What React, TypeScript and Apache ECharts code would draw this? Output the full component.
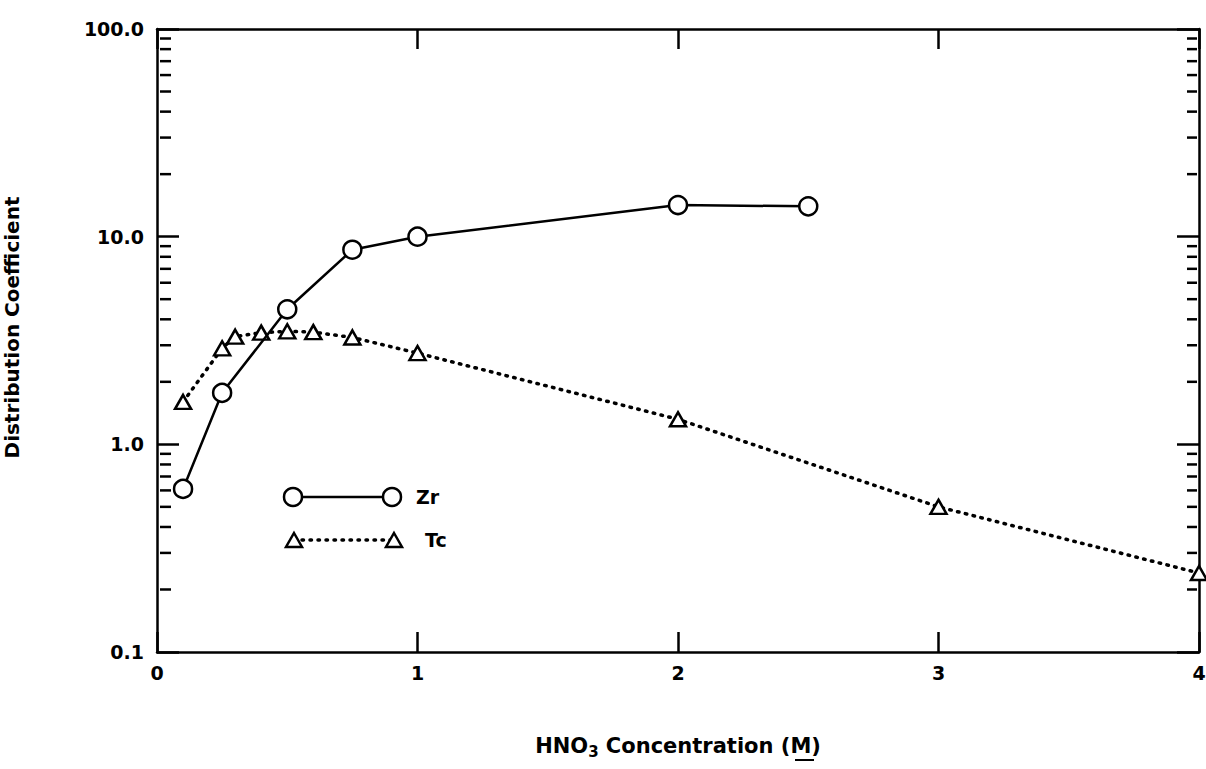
import React, { useEffect, useRef } from "react";
import * as echarts from "echarts";

// HNO3 concentration (M)
const zrX = [0.1, 0.25, 0.5, 0.75, 1.0, 2.0, 2.5];
const zrY = [0.61, 1.77, 4.47, 8.65, 10.0, 14.2, 14.0];
const tcX = [0.1, 0.25, 0.3, 0.4, 0.5, 0.6, 0.75, 1.0, 2.0, 3.0, 4.0];
const tcY = [1.6, 2.9, 3.3, 3.45, 3.5, 3.47, 3.27, 2.75, 1.32, 0.5, 0.24];
const xTicks = [0, 1, 2, 3, 4];
const yMajorTicks = [0.1, 1, 10, 100];
const yMinorTicks = [
  0.2, 0.3, 0.4, 0.5, 0.6, 0.7, 0.8, 0.9,
  2, 3, 4, 5, 6, 7, 8, 9,
  20, 30, 40, 50, 60, 70, 80, 90,
];

const FONT = "DejaVu Sans";

export default function App() {
  const ref = useRef<HTMLDivElement>(null);
  useEffect(() => {
    if (!ref.current) return;
    const chart = echarts.init(ref.current, undefined, { renderer: "svg" });
    const axisLine = { show: true, onZero: false, lineStyle: { color: "#000", width: 2.5 } };
    const xAxisCommon = {
      type: "value" as const,
      min: xTicks[0],
      max: xTicks[xTicks.length - 1],
      interval: 1,
      axisLine,
      splitLine: { show: false },
      axisTick: { show: true, inside: true, length: 20, lineStyle: { color: "#000", width: 2.5 } },
    };
    const yAxisCommon = {
      type: "log" as const,
      logBase: 10,
      min: yMajorTicks[0],
      max: yMajorTicks[yMajorTicks.length - 1],
      axisLine,
      splitLine: { show: false },
      minorTick: { show: false },
      axisTick: { show: true, inside: true, length: 22, lineStyle: { color: "#000", width: 2.5 } },
    };
    const option: any = {
      animation: false,
      backgroundColor: "#fff",
      grid: { left: 157, right: 7, top: 29, bottom: 117, containLabel: false, outerBoundsMode: "none" },
      xAxis: [
        {
          ...xAxisCommon,
          position: "bottom",
          axisLabel: {
            color: "#000",
            fontFamily: FONT,
            fontWeight: "bold",
            fontSize: 19,
            margin: 11,
          },
          name: "HNO{sub|3} Concentration (M)",
          nameLocation: "middle",
          nameGap: 81,
          nameTextStyle: {
            color: "#000",
            fontFamily: FONT,
            fontWeight: "bold",
            fontSize: 21,
            rich: {
              sub: {
                color: "#000",
                fontFamily: FONT,
                fontWeight: "bold",
                fontSize: 15,
                verticalAlign: "bottom",
                padding: [11, 0, 0, 0],
              },
            },
          },
        },
        {
          ...xAxisCommon,
          position: "top",
          axisLabel: { show: false },
        },
      ],
      yAxis: [
        {
          ...yAxisCommon,
          position: "left",
          axisLabel: {
            color: "#000",
            fontFamily: FONT,
            fontWeight: "bold",
            fontSize: 19,
            margin: 13,
            formatter: (v: number) => v.toFixed(1),
          },
          name: "Distribution Coefficient",
          nameLocation: "middle",
          nameRotate: 90,
          nameGap: 135,
          nameTextStyle: {
            color: "#000",
            fontFamily: FONT,
            fontWeight: "bold",
            fontSize: 20,
            padding: [0, 0, 0, 26],
          },
        },
        {
          ...yAxisCommon,
          position: "right",
          axisLabel: { show: false },
        },
      ],
      series: [
        {
          name: "minorTicks",
          type: "custom",
          silent: true,
          xAxisIndex: 0,
          yAxisIndex: 0,
          clip: false,
          data: yMinorTicks.map((v) => [0, v]),
          encode: { x: 0, y: 1 },
          renderItem: (params: any, api: any) => {
            const v = api.value(1);
            const pL = api.coord([xTicks[0], v]);
            const pR = api.coord([xTicks[xTicks.length - 1], v]);
            const style = { stroke: "#000", lineWidth: 2.5 };
            return {
              type: "group",
              children: [
                { type: "line", shape: { x1: pL[0] + 3, y1: pL[1], x2: pL[0] + 14, y2: pL[1] }, style },
                { type: "line", shape: { x1: pR[0] - 2, y1: pR[1], x2: pR[0] - 12, y2: pR[1] }, style },
              ],
            };
          },
        },
        {
          name: "Zr",
          type: "line",
          data: zrX.map((x, i) => [x, zrY[i]]),
          symbol: "circle",
          symbolSize: 18,
          showAllSymbol: true,
          clip: false,
          lineStyle: { color: "#000", width: 2.5 },
          itemStyle: { color: "#fff", borderColor: "#000", borderWidth: 2.5 },
          z: 3,
        },
        {
          name: "Tc",
          type: "line",
          data: tcX.map((x, i) => [x, tcY[i]]),
          symbol: "triangle",
          symbolSize: [16, 14],
          showAllSymbol: true,
          clip: false,
          lineStyle: { color: "#000", width: 3.5, type: [1.5, 6.5], cap: "round" },
          itemStyle: { color: "#fff", borderColor: "#000", borderWidth: 2.5 },
          z: 2,
        },
      ],
      graphic: [
        {
          type: "group",
          children: [
            { type: "line", shape: { x1: 293, y1: 497, x2: 392, y2: 497 }, style: { stroke: "#000", lineWidth: 2.5 } },
            { type: "circle", shape: { cx: 293, cy: 497, r: 9 }, style: { fill: "#fff", stroke: "#000", lineWidth: 2.5 } },
            { type: "circle", shape: { cx: 392, cy: 497, r: 9 }, style: { fill: "#fff", stroke: "#000", lineWidth: 2.5 } },
            {
              type: "text",
              x: 416,
              y: 497,
              style: { text: "Zr", fill: "#000", font: `bold 19px "${FONT}"`, verticalAlign: "middle" },
            },
            {
              type: "line",
              shape: { x1: 294, y1: 540, x2: 394, y2: 540 },
              style: { stroke: "#000", lineWidth: 3.5, lineDash: [1.5, 6.5], lineCap: "round" },
            },
            {
              type: "polygon",
              shape: { points: [[294, 533], [302, 547], [286, 547]] },
              style: { fill: "#fff", stroke: "#000", lineWidth: 2.5 },
            },
            {
              type: "polygon",
              shape: { points: [[394, 533], [402, 547], [386, 547]] },
              style: { fill: "#fff", stroke: "#000", lineWidth: 2.5 },
            },
            {
              type: "text",
              x: 425,
              y: 540,
              style: { text: "Tc", fill: "#000", font: `bold 19px "${FONT}"`, verticalAlign: "middle" },
            },
            // underline of the unit symbol M in the x-axis title
            {
              type: "line",
              shape: { x1: 795, y1: 760, x2: 814, y2: 760 },
              style: { stroke: "#000", lineWidth: 2 },
            },
          ],
        },
      ],
    };
    chart.setOption(option);
    return () => chart.dispose();
  }, []);
  return (
    <div
      ref={ref}
      style={{ position: "absolute", left: 0, top: 0, width: 1206, height: 769, background: "#fff" }}
    />
  );
}
